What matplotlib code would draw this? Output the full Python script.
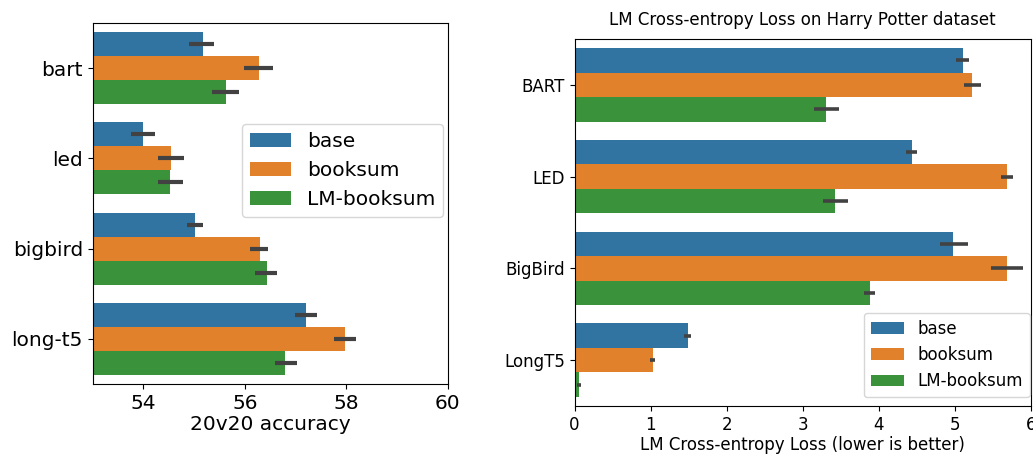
import numpy as np
import matplotlib
matplotlib.use("Agg")
import matplotlib.pyplot as plt

hues = ["base", "booksum", "LM-booksum"]
colors = ["#3274a1", "#e1812c", "#3a923a"]

# panneau gauche : 20v20 accuracy
models_left = ["bart", "led", "bigbird", "long-t5"]
acc = [[55.18, 54.00, 55.02, 57.20],
       [56.28, 54.55, 56.30, 57.98],
       [55.63, 54.53, 56.44, 56.80]]
acc_lo = [[54.90, 53.75, 54.86, 56.98],
          [55.98, 54.28, 56.10, 57.75],
          [55.35, 54.28, 56.21, 56.60]]
acc_hi = [[55.40, 54.22, 55.17, 57.42],
          [56.55, 54.80, 56.45, 58.20],
          [55.88, 54.78, 56.64, 57.02]]

# panneau droit : LM cross-entropy loss
models_right = ["BART", "LED", "BigBird", "LongT5"]
loss = [[5.10, 4.43, 4.98, 1.49],
        [5.23, 5.69, 5.69, 1.03],
        [3.31, 3.43, 3.88, 0.06]]
loss_lo = [[5.01, 4.36, 4.80, 1.44],
           [5.12, 5.61, 5.48, 0.99],
           [3.15, 3.27, 3.80, 0.03]]
loss_hi = [[5.19, 4.50, 5.17, 1.53],
           [5.34, 5.76, 5.89, 1.06],
           [3.47, 3.59, 3.95, 0.09]]

W, H = 1033, 454
fig = plt.figure(figsize=(W / 100, H / 100), dpi=100)


def axes_px(x0, x1, y0, y1):
    return fig.add_axes([x0 / W, 1 - y1 / H, (x1 - x0) / W, (y1 - y0) / H])


def grouped(ax, vals, lo, hi, left, ew, fs):
    n = len(vals[0])
    y = np.arange(n)
    bh = 0.8 / 3
    for i, h in enumerate(hues):
        v = np.array(vals[i])
        err = [v - np.array(lo[i]), np.array(hi[i]) - v]
        ax.barh(y - 0.4 + bh * (i + 0.5), v - left, height=bh, left=left,
                color=colors[i], label=h)
        ax.errorbar(v, y - 0.4 + bh * (i + 0.5), xerr=err, fmt="none",
                    ecolor="#424242", elinewidth=ew, capsize=0)
    ax.set_ylim(n - 0.5, -0.5)
    ax.set_yticks(y)
    ax.tick_params(labelsize=fs)


ax1 = axes_px(92.7, 447.7, 23, 384)
grouped(ax1, acc, acc_lo, acc_hi, 0, 3.0, 14.5)
ax1.set_yticklabels(models_left)
ax1.set_xlim(53, 60)
ax1.set_xticks([54, 56, 58, 60])
ax1.set_xlabel("20v20 accuracy", fontsize=14.5, labelpad=2)
ax1.legend(loc="upper right", bbox_to_anchor=(0.987, 0.72), borderaxespad=0,
           fontsize=14.5)

ax2 = axes_px(574.5, 1031, 39, 406)
grouped(ax2, loss, loss_lo, loss_hi, 0, 2.6, 12)
ax2.set_yticklabels(models_right)
ax2.set_xlim(0, 6)
ax2.set_xticks(range(7))
ax2.set_xlabel("LM Cross-entropy Loss (lower is better)", fontsize=12, labelpad=2)
ax2.set_title("LM Cross-entropy Loss on Harry Potter dataset", fontsize=12, pad=10)
ax2.legend(loc="lower left", bbox_to_anchor=((864 - 574.5) / 456.5, (406 - 397) / 367),
           borderaxespad=0, fontsize=12)

fig.savefig("out.png", dpi=100)
